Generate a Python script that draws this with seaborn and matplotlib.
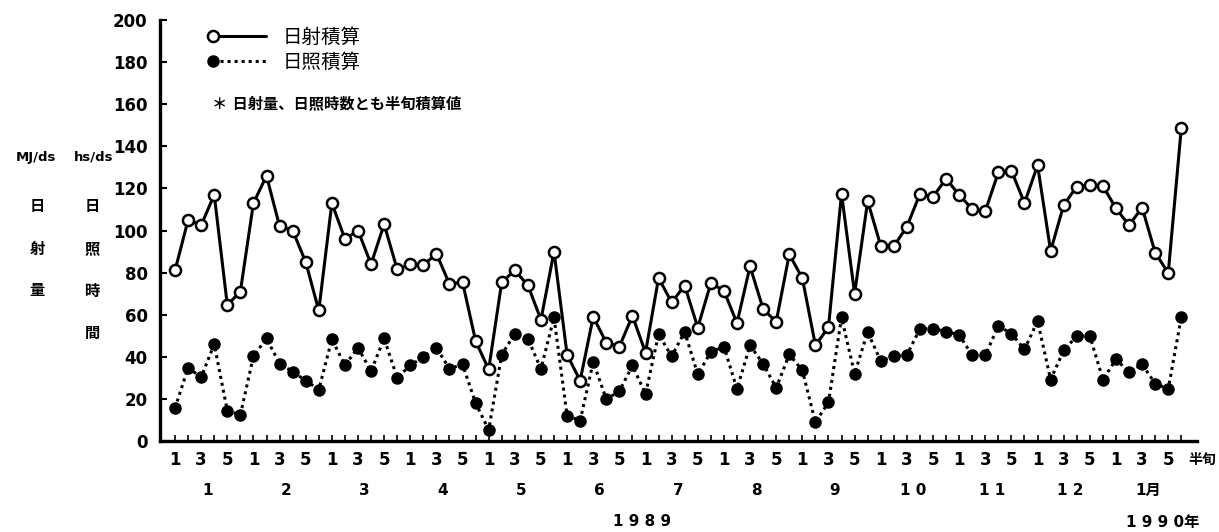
import numpy as np
import pandas as pd
import matplotlib
matplotlib.use("Agg")
import matplotlib.pyplot as plt
import seaborn as sns
from matplotlib.legend_handler import HandlerLine2D

# 半旬ごとの積算値 (1989年1月 〜 1990年1月, 13ヶ月 x 6半旬)
nissha = [81, 105, 102.5, 117, 64.6, 71, 113, 126, 102, 100, 85, 62,
          113, 96, 100, 84, 103, 81.5, 84, 83.5, 89, 74.6, 75.5, 47.5,
          34, 75.5, 81, 74, 57.6, 90, 41, 28.7, 59, 46.7, 44.8, 59.5,
          42, 77.4, 65.9, 73.8, 53.9, 75, 71.4, 56, 83, 62.7, 56.6, 88.7,
          77.4, 45.5, 54, 117.5, 70, 114, 92.7, 92.5, 101.8, 117.4, 116, 124.6,
          116.9, 110.2, 109.2, 127.6, 128.4, 113, 131, 90.3, 112.1, 120.9, 121.7, 121.2,
          110.5, 102.5, 110.9, 89.5, 79.8, 148.8]
nissho = [15.6, 34.8, 30.3, 46, 14.4, 12.4, 40.3, 48.7, 36.8, 32.9, 28.7, 24.4,
          48.3, 36, 44.3, 33.2, 48.7, 30, 35.9, 39.9, 44.3, 34.3, 36.4, 18,
          5.3, 41, 51, 48.6, 34.3, 58.7, 12, 9.7, 37.5, 19.9, 23.6, 35.9,
          22.3, 50.7, 40.3, 51.8, 31.6, 42.3, 44.8, 24.7, 45.5, 36.7, 25.2, 41.1,
          33.6, 8.9, 18.3, 58.7, 32, 51.8, 38, 40.3, 40.8, 53.4, 53.4, 52,
          50.4, 40.7, 40.7, 54.7, 51, 43.5, 57, 29.2, 43, 49.9, 49.9, 29.2,
          38.8, 32.7, 36.4, 27.3, 24.7, 59]
hanjun_labels = ["1", "", "3", "", "5", ""] * 13
month_labels = ["1", "2", "3", "4", "5", "6", "7", "8", "9",
                "1 0", "1 1", "1 2", "1月"]

df = pd.DataFrame({"x": np.arange(len(nissha)), "nissha": nissha, "nissho": nissho})

sns.set_style("ticks")
plt.rcParams["font.family"] = ["DejaVu Sans", "Noto Sans CJK JP"]
plt.rcParams["text.color"] = "black"
plt.rcParams["xtick.color"] = "black"
plt.rcParams["ytick.color"] = "black"
plt.rcParams["axes.edgecolor"] = "black"

W, H = 1219, 532
fig = plt.figure(figsize=(W / 100, H / 100), dpi=100)
ax = fig.add_axes([160 / W, 91 / H, (1197 - 160) / W, 421 / H])

sns.lineplot(data=df, x="x", y="nissha", ax=ax, color="black", lw=2.2,
             marker="o", markersize=8, markerfacecolor="white",
             markeredgecolor="black", markeredgewidth=1.8, label="日射積算")
sns.lineplot(data=df, x="x", y="nissho", ax=ax, color="black", lw=2.2,
             linestyle=(0, (1, 1.3)), marker="o", markersize=8,
             markerfacecolor="black", markeredgecolor="black",
             markeredgewidth=1, label="日照積算")

ax.set_xlim(-1.15, 78.2)
ax.set_ylim(0, 200)
ax.set_yticks(range(0, 201, 20))
ax.set_yticklabels([str(v) for v in range(0, 201, 20)], fontweight="bold", fontsize=12)
ax.set_xticks(df["x"])
ax.set_xticklabels(hanjun_labels, fontweight="bold", fontsize=12)
ax.tick_params(axis="y", direction="in", length=5, width=1.5, pad=9)
ax.tick_params(axis="x", direction="in", length=4, width=1.2, pad=7)
ax.set_xlabel("")
ax.set_ylabel("")
sns.despine(ax=ax)
for s in ["left", "bottom"]:
    ax.spines[s].set_linewidth(2.4)

# 月ラベル
for m, lab in enumerate(month_labels):
    ax.text(6 * m + 2.5, -0.118, lab, transform=ax.get_xaxis_transform(),
            ha="center", va="center", fontsize=11, fontweight="bold")
fig.text(642 / W, 1 - 522 / H, "1 9 8 9", ha="center", va="center",
         fontsize=11, fontweight="bold")
fig.text(1163 / W, 1 - 522 / H, "1 9 9 0年", ha="center", va="center",
         fontsize=11, fontweight="bold")
fig.text(1202 / W, 1 - 460 / H, "半旬", ha="center", va="center",
         fontsize=10, fontweight="bold")

# 左側の単位と縦書きラベル
fig.text(36 / W, 1 - 157 / H, "MJ/ds", ha="center", va="center",
         fontsize=9.5, fontweight="bold")
fig.text(94 / W, 1 - 157 / H, "hs/ds", ha="center", va="center",
         fontsize=9.5, fontweight="bold")
for i, ch in enumerate("日射量"):
    fig.text(37 / W, 1 - (207 + 42 * i) / H, ch, ha="center", va="center",
             fontsize=11, fontweight="bold")
for i, ch in enumerate("日照時間"):
    fig.text(92 / W, 1 - (207 + 42 * i) / H, ch, ha="center", va="center",
             fontsize=11, fontweight="bold")


# 凡例のマーカーを線の左端に置く
class LeftMarker(HandlerLine2D):
    def create_artists(self, *args, **kwargs):
        arts = super().create_artists(*args, **kwargs)
        for a in arts:
            a.set_markevery([0])
        return arts


handles, labels = ax.get_legend_handles_labels()
ax.legend(handles, labels, loc="upper left", bbox_to_anchor=(213 / W, 1 - 28 / H),
          bbox_transform=fig.transFigure, frameon=False, fontsize=14,
          handlelength=2.7, handletextpad=0.9, labelspacing=0.3,
          borderpad=0, borderaxespad=0, numpoints=1,
          handler_map={h: LeftMarker() for h in handles})

fig.text(212 / W, 1 - 105 / H, "＊ 日射量、日照時数とも半旬積算値", ha="left",
         va="center", fontsize=11, fontweight="bold")

plt.savefig("out.png", dpi=100)
